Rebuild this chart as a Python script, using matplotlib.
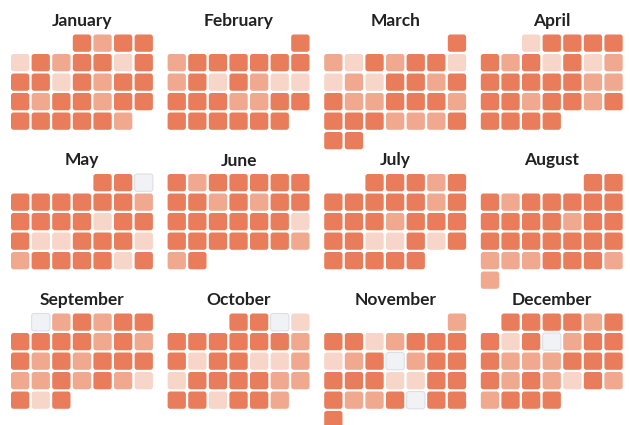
import matplotlib
matplotlib.use('Agg')
import datetime
import matplotlib.pyplot as plt
from matplotlib.patches import FancyBboxPatch

year = 2025
month_names = ['January', 'February', 'March', 'April', 'May', 'June',
               'July', 'August', 'September', 'October', 'November', 'December']

# level per day: 0 = none, 1 = light, 2 = medium, 3 = dark
jan = [3, 2, 3, 3,
       1, 3, 2, 3, 3, 1, 3,
       3, 3, 1, 3, 2, 3, 3,
       3, 2, 3, 3, 2, 3, 3,
       3, 3, 3, 3, 3, 2]
feb = [3,
       2, 3, 3, 3, 3, 3, 3,
       2, 3, 1, 3, 2, 1, 1,
       3, 3, 3, 2, 2, 3, 3,
       3, 3, 3, 3, 3, 3]
mar = [3,
       2, 1, 3, 2, 3, 3, 1,
       1, 2, 1, 3, 3, 2, 3,
       3, 2, 2, 3, 3, 3, 2,
       3, 3, 3, 2, 2, 2, 3,
       3, 3]
apr = [1, 3, 3, 3, 3,
       3, 2, 3, 1, 3, 1, 2,
       3, 3, 3, 3, 3, 2, 2,
       3, 3, 2, 3, 3, 2, 3,
       3, 3, 3, 3]
may = [3, 3, 0,
       3, 3, 3, 3, 3, 3, 2,
       3, 3, 3, 3, 1, 3, 3,
       3, 1, 1, 3, 3, 3, 1,
       2, 3, 3, 3, 3, 1, 3]
jun = [3, 2, 3, 3, 3, 3, 3,
       3, 3, 2, 3, 2, 3, 3,
       3, 3, 3, 3, 3, 3, 1,
       3, 3, 3, 3, 3, 3, 2,
       2, 3]
jul = [3, 3, 3, 2, 3,
       3, 3, 3, 3, 3, 2, 3,
       3, 3, 3, 2, 3, 3, 3,
       3, 3, 1, 1, 3, 1, 3,
       3, 3, 3, 3, 3]
aug = [3, 3,
       3, 2, 3, 3, 3, 3, 3,
       3, 3, 3, 3, 2, 3, 3,
       3, 3, 3, 3, 3, 3, 3,
       2, 2, 2, 3, 3, 3, 2,
       2]
sep = [0, 2, 3, 2, 3, 3,
       3, 3, 3, 3, 2, 3, 2,
       3, 2, 3, 2, 3, 3, 3,
       2, 2, 3, 2, 3, 2, 1,
       3, 1, 3]
oct_ = [3, 3, 0, 1,
        3, 3, 3, 3, 3, 3, 2,
        3, 1, 3, 3, 1, 1, 2,
        1, 3, 3, 3, 3, 2, 2,
        3, 3, 1, 3, 3, 2]
nov = [2,
       3, 3, 1, 2, 3, 3, 3,
       1, 2, 3, 0, 2, 3, 3,
       3, 3, 3, 1, 1, 3, 3,
       3, 2, 2, 3, 0, 3, 3,
       3]
dec = [3, 3, 3, 3, 2, 3,
       3, 1, 3, 0, 2, 3, 3,
       3, 2, 2, 2, 3, 3, 3,
       3, 2, 3, 2, 1, 3, 2,
       2, 3, 3, 3]
levels = [jan, feb, mar, apr, may, jun, jul, aug, sep, oct_, nov, dec]

fills = {0: '#f1f2f5', 1: '#f8d5c9', 2: '#f0a88f', 3: '#e97c5b'}
edges = {0: '#dcdfe5', 1: 'none', 2: 'none', 3: 'none'}

W, H = 630, 425
fig = plt.figure(figsize=(W / 100, H / 100), dpi=100)
ax = fig.add_axes([0, 0, 1, 1])
ax.set_xlim(0, W)
ax.set_ylim(H, 0)
ax.axis('off')

cw, ch = 18.3, 17.3
px, py = 20.6, 19.5

for m, vals in enumerate(levels):
    gx = 11 + 156.6 * (m % 4)
    gy = 34.5 + 139.5 * (m // 4)
    start = (datetime.date(year, m + 1, 1).weekday() + 1) % 7  # sunday first
    for d, v in enumerate(vals):
        pos = start + d
        col, row = pos % 7, pos // 7
        x, y = gx + col * px, gy + row * py
        ax.add_patch(FancyBboxPatch((x, y), cw, ch,
                                    boxstyle='round,pad=0,rounding_size=2.6',
                                    facecolor=fills[v], edgecolor=edges[v],
                                    linewidth=0.8))
    ax.text(gx + (6 * px + cw) / 2, gy - 8.5, month_names[m],
            ha='center', va='baseline', fontsize=12.5, fontweight='bold',
            family='Lato', color='#222222')

fig.savefig('out.png', dpi=100)
